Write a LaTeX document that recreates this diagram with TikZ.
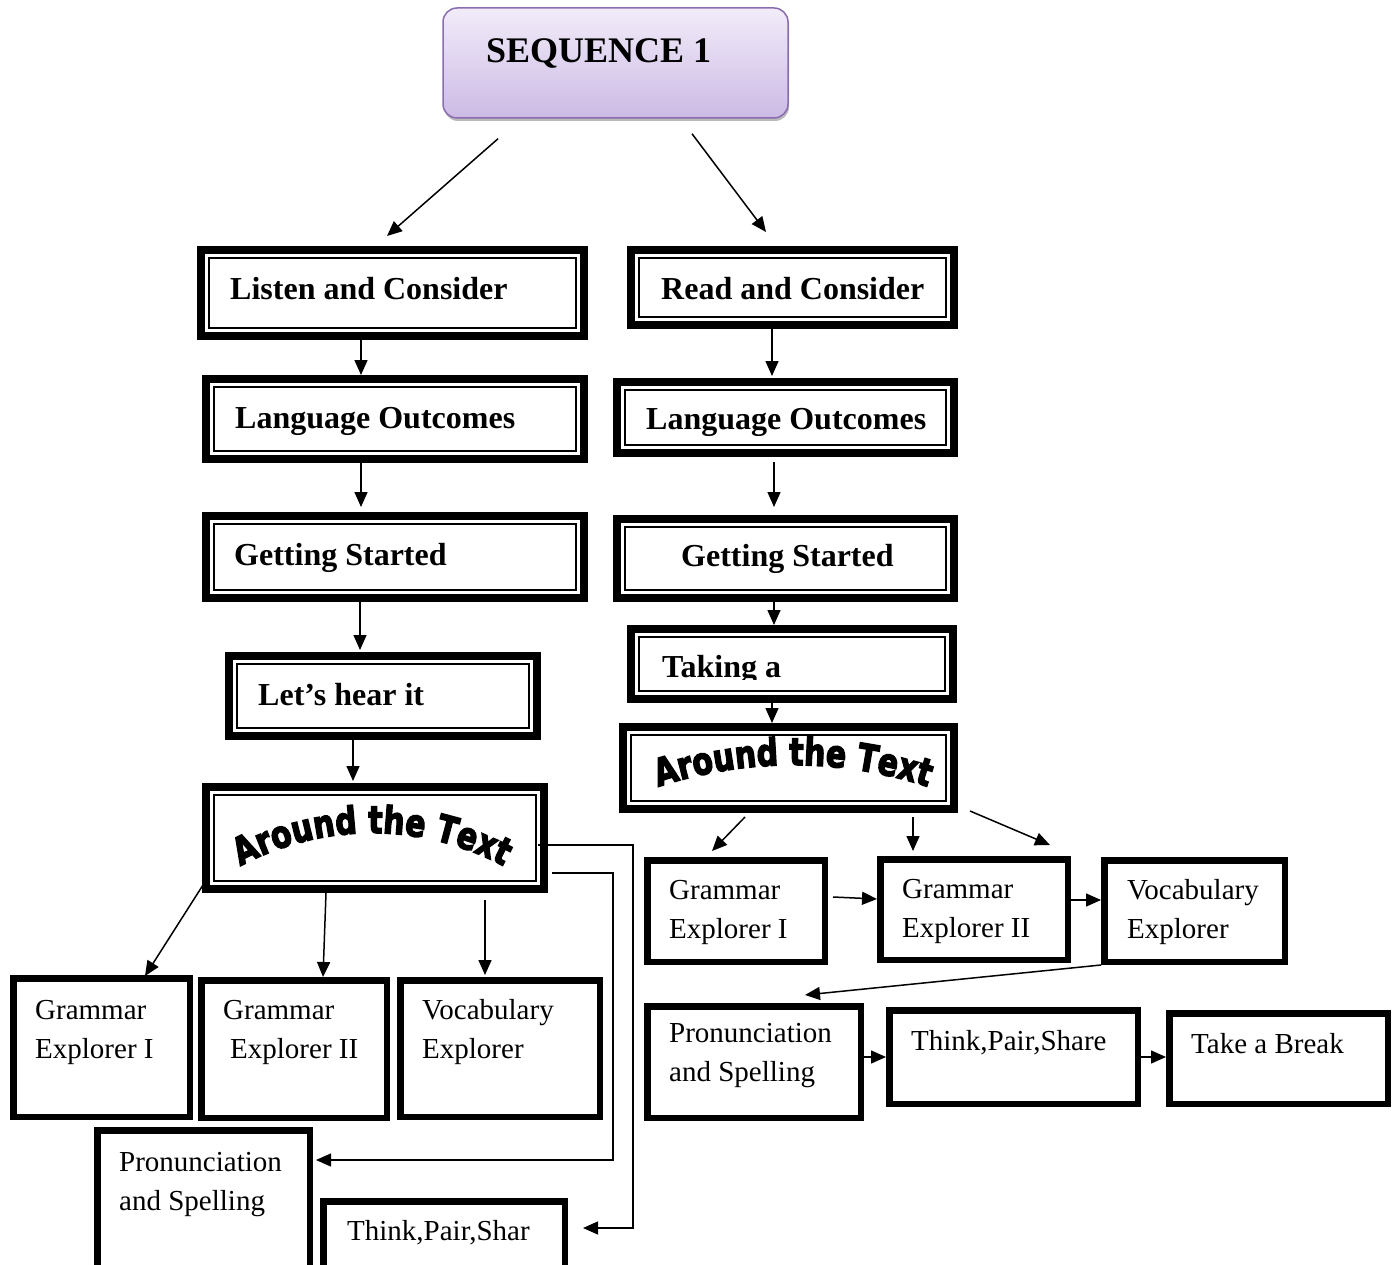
\documentclass[tikz,border=0pt]{standalone}
\usepackage{fontspec}
\setmainfont{Liberation Serif}
\newfontfamily\wordartfont{DejaVu Sans}[BoldFeatures={FakeBold=4}]
\usetikzlibrary{arrows.meta,decorations.text,calc,shadows}
\newcommand\wafont{\wordartfont\bfseries\fontsize{30}{36}\selectfont}
\newcommand\twolines[2]{\begin{tabular}[t]{@{}l@{}}#1\\#2\end{tabular}}
\definecolor{seqtop}{RGB}{242,236,249}
\definecolor{seqbot}{RGB}{204,186,229}
\definecolor{seqborder}{RGB}{138,109,176}
\begin{document}
\begin{tikzpicture}[x=1pt,y=-1pt,
  dbox/.style={draw, rectangle, line width=8pt, inner sep=0pt,
    path picture={\draw[line width=2pt]
      ([shift={(8pt,-8pt)}]path picture bounding box.north west) rectangle
      ([shift={(-8pt,8pt)}]path picture bounding box.south east);}},
  sbox/.style={draw, rectangle, line width=6.5pt, inner sep=0pt},
  seqbox/.style={draw=seqborder, line width=1.5pt, rounded corners=14pt,
    top color=seqtop, bottom color=seqbot,
    drop shadow={shadow xshift=1pt, shadow yshift=-3pt, fill=black!45, opacity=0.6}},
  btext/.style={font=\bfseries\fontsize{32}{38}\selectfont, anchor=base west, inner sep=0pt},
  rtext/.style={font=\fontsize{29}{39}\selectfont, anchor=base west, inner sep=0pt},
  arr/.style={line width=1.5pt, -{Triangle[length=15pt,width=13pt]}},
  elbow/.style={line width=1.2pt, -{Triangle[length=15pt,width=13pt]}},
  wordart/.style={decorate, decoration={text effects along path, text align=center,
    text={Around the Text},
    text effects/.cd, text along path,
    every character/.style={font=\wafont, yscale=1.25, inner sep=0pt}}}
]
\useasboundingbox (0,0) rectangle (1397,1265);
\clip (0,0) rectangle (1397,1265);

% title
\node[seqbox, minimum width=345pt, minimum height=110pt] (seq) at (615.5,63) {};
\node[font=\bfseries\fontsize{36}{40}\selectfont, anchor=base west, inner sep=0pt] (seqt) at (486,63) {SEQUENCE 1};

% left column
\node[dbox, minimum width=383pt, minimum height=86pt] (L1) at (392.5,293) {};
\node[btext] (tL1) at (230,299) {Listen and Consider};
\node[dbox, minimum width=378pt, minimum height=80pt] (L2) at (395,419) {};
\node[btext] (tL2) at (235,428) {Language Outcomes};
\node[dbox, minimum width=378pt, minimum height=82pt] (L3) at (395,557) {};
\node[btext] (tL3) at (234,565) {Getting Started};
\node[dbox, minimum width=308pt, minimum height=80pt] (L4) at (383,696) {};
\node[btext] (tL4) at (258,705) {Let’s hear it};
\node[dbox, minimum width=338pt, minimum height=102pt] (L5) at (375,838) {};
\path[wordart] (212.5,883.3) arc[start angle=125, end angle=55, radius=278pt];

% right column
\node[dbox, minimum width=323pt, minimum height=75pt] (R1) at (792.5,287.5) {};
\node[btext] (tR1) at (661,299) {Read and Consider};
\node[dbox, minimum width=337pt, minimum height=71pt] (R2) at (785.5,417.5) {};
\node[btext] (tR2) at (646,429) {Language Outcomes};
\node[dbox, minimum width=337pt, minimum height=79pt] (R3) at (785.5,558.5) {};
\node[btext] (tR3) at (681,566) {Getting Started};
\node[dbox, minimum width=322pt, minimum height=70pt] (R4) at (792,664) {};
\begin{scope}
  \clip (627,625) rectangle (957,679);
  \node[btext] (tR4) at (662,677) {Taking a};
\end{scope}
\node[dbox, minimum width=331pt, minimum height=82pt] (R5) at (788.5,768) {};
\path[wordart] (632.7,796.2) arc[start angle=112, end angle=68, radius=428pt];

% left bottom boxes
\node[sbox, minimum width=176.5pt, minimum height=138.5pt] (LB1) at (101.5,1047.5) {};
\node[rtext] (tLB1) at (35,1019) {\twolines{Grammar}{Explorer I}};
\node[sbox, minimum width=185.5pt, minimum height=137.5pt] (LB2) at (294,1049) {};
\node[rtext] (tLB2) at (223,1019) {\twolines{Grammar}{\hspace{7pt}Explorer II}};
\node[sbox, minimum width=199.5pt, minimum height=136.5pt] (LB3) at (500,1048.5) {};
\node[rtext] (tLB3) at (422,1019) {\twolines{Vocabulary}{Explorer}};
\node[sbox, minimum width=212.5pt, minimum height=156.5pt] (LB4) at (203.5,1208.5) {};
\node[rtext] (tLB4) at (119,1171) {\twolines{Pronunciation}{and Spelling}};
\node[sbox, minimum width=241.5pt, minimum height=85.5pt] (LB5) at (444,1244) {};
\node[rtext] (tLB5) at (347,1240) {Think,Pair,Shar};

% right bottom boxes
\node[sbox, minimum width=177.5pt, minimum height=101.5pt] (RB1) at (736,911) {};
\node[rtext] (tRB1) at (669,899) {\twolines{Grammar}{Explorer I}};
\node[sbox, minimum width=187.5pt, minimum height=100.5pt] (RB2) at (974,909.5) {};
\node[rtext] (tRB2) at (902,898) {\twolines{Grammar}{Explorer II}};
\node[sbox, minimum width=180.5pt, minimum height=101.5pt] (RB3) at (1194.5,911) {};
\node[rtext] (tRB3) at (1127,899) {\twolines{Vocabulary}{Explorer}};
\node[sbox, minimum width=213.5pt, minimum height=111.5pt] (RB4) at (754,1062) {};
\node[rtext] (tRB4) at (669,1042) {\twolines{Pronunciation}{and Spelling}};
\node[sbox, minimum width=248.5pt, minimum height=93.5pt] (RB5) at (1013.5,1057) {};
\node[rtext] (tRB5) at (911,1050) {Think,Pair,Share};
\node[sbox, minimum width=218.5pt, minimum height=90.5pt] (RB6) at (1278.5,1058.5) {};
\node[rtext] (tRB6) at (1191,1053) {Take a Break};

% connectors: title
\draw[arr] ($(seq.south)+(-117.5,20)$) -- ($(L1.north)+(-5.5,-10)$);
\draw[arr] ($(seq.south)+(76.5,15)$) -- ($(R1.north)+(-26.5,-14)$);

% left column
\draw[arr] ($(L1.south)+(-31.5,0)$) -- ($(L2.north)+(-34,0)$);
\draw[arr] ($(L2.south)+(-34,0)$) -- ($(L3.north)+(-34,-5)$);
\draw[arr] ($(L3.south)+(-35,0)$) -- ($(L4.north)+(-23,-2)$);
\draw[arr] ($(L4.south)+(-30,0)$) -- ($(L5.north)+(-22,-2)$);
\draw[arr] ($(L5.south west)+(1,-8)$) -- ($(LB1.north)+(43.5,1)$);
\draw[arr] ($(L5.south)+(-49,0)$) -- ($(LB2.north)+(29,0)$);
\draw[arr] ($(L5.south)+(110,7)$) -- ($(LB3.north)+(-15,-2)$);
\draw[elbow] ($(L5.east)+(-10,7)$) -- ++(95,0) |- ($(LB5.east)+(15,-16)$);
\draw[elbow] ($(L5.east)+(4,35)$) -- ++(61,0) |- ($(LB4.east)+(3,-48.5)$);

% right column
\draw[arr] ($(R1.south)+(-20.5,0)$) -- ($(R2.north)+(-13.5,-2)$);
\draw[arr] ($(R2.south)+(-11.5,5)$) -- ($(R3.north)+(-11.5,-8)$);
\draw[arr] ($(R3.south)+(-11.5,0)$) -- ($(R4.north)+(-18,0)$);
\draw[arr] ($(R4.south)+(-20,0)$) -- ($(R5.north)+(-16.5,0)$);
\draw[arr] ($(R5.south)+(-43.5,4)$) -- ($(RB1.north)+(-24,-6)$);
\draw[arr] ($(R5.south)+(124.5,4)$) -- ($(RB2.north)+(-61,-5)$);
\draw[arr] ($(R5.south east)+(12,-2)$) -- ($(RB2.north east)+(-21,-11)$);
\draw[arr] ($(RB1.east)+(5,-14)$) -- ($(RB2.west)+(0,-10.5)$);
\draw[arr] ($(RB2.east)+(0,-9.5)$) -- ($(RB3.west)+(0,-11)$);
\draw[arr] (RB3.south west) -- ($(RB4.north)+(51,-8)$);
\draw[arr] ($(RB4.east)+(0,-5)$) -- (RB5.west);
\draw[arr] (RB5.east) -- ($(RB6.west)+(0,-1.5)$);
\end{tikzpicture}
\end{document}
